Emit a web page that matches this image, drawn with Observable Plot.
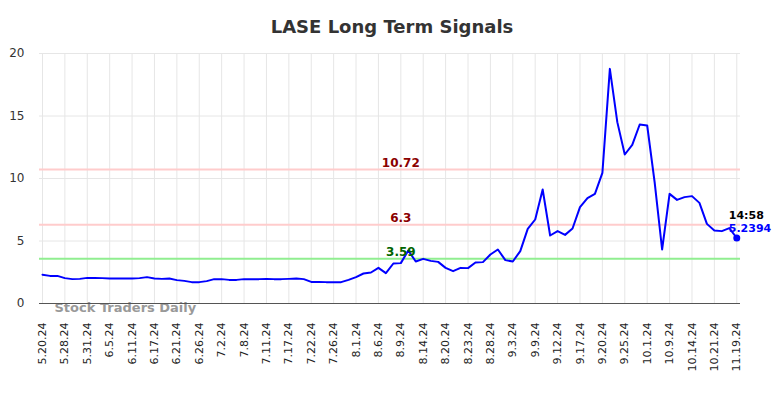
<!DOCTYPE html>
<html><head><meta charset="utf-8">
<script src="https://cdn.jsdelivr.net/npm/d3@7"></script>
<script src="https://cdn.jsdelivr.net/npm/@observablehq/plot@0.6"></script>
<style>
body{margin:0;background:#fff;font-family:"DejaVu Sans",sans-serif;}
#wrap{position:relative;width:784px;height:398px;overflow:hidden;}
#wrap svg{position:absolute;left:0;top:0;}
#title{position:absolute;left:0;top:17px;width:784px;text-align:center;font-weight:bold;font-size:18px;line-height:20px;font-family:"DejaVu Sans",sans-serif;color:#333;z-index:2;}
</style></head><body>
<div id="wrap"><div id="title">LASE Long Term Signals</div></div>
<script>
// tick labels, one every 3 data points
const dateLabels = ["5.20.24","5.28.24","5.31.24","6.5.24","6.11.24","6.17.24","6.21.24","6.26.24","7.2.24","7.8.24","7.11.24","7.17.24","7.22.24","7.26.24","8.1.24","8.6.24","8.9.24","8.14.24","8.20.24","8.23.24","8.28.24","9.3.24","9.9.24","9.12.24","9.17.24","9.20.24","9.25.24","10.1.24","10.9.24","10.14.24","10.21.24","11.19.24"];
const labelStep = 3;
// price series
const prices = [
 2.30,2.21,2.21,2.03,1.95,1.97,2.05,2.05,2.03,2.00,
 2.00,2.00,2.00,2.03,2.11,2.00,1.97,2.00,1.87,1.81,
 1.71,1.71,1.79,1.95,1.95,1.89,1.89,1.95,1.95,1.95,
 1.97,1.95,1.95,1.97,2.00,1.95,1.73,1.73,1.71,1.71,
 1.71,1.89,2.11,2.40,2.48,2.85,2.43,3.20,3.23,4.24,
 3.36,3.57,3.41,3.33,2.85,2.59,2.85,2.83,3.28,3.31,
 3.92,4.32,3.47,3.36,4.19,5.97,6.72,9.12,5.44,5.79,
 5.49,6.00,7.71,8.43,8.77,10.45,18.77,14.51,11.92,12.69,
 14.32,14.24,9.70,4.32,8.77,8.29,8.51,8.59,8.05,6.37,
 5.84,5.79,6.03,5.2394
];
const signalValues = [10.72, 6.3, 3.59];
const signalLabels = ["10.72", "6.3", "3.59"];
const signalColors = ["#ffcccc", "#ffcccc", "#90ee90"];
const signalTextColors = ["#8b0000", "#8b0000", "#006400"];
const yTicks = [0, 5, 10, 15, 20];
const lastTime = "14:58";
const lastValueLabel = "5.2394";

const series = prices.map((v, i) => ({i, v}));
const labelIdx = dateLabels.map((d, k) => k * labelStep);
const signals = signalValues.map((v, k) => ({v, label: signalLabels[k], line: signalColors[k], text: signalTextColors[k]}));
const last = series[series.length - 1];
const labelX = 48; // index where signal labels are centred

const plot = Plot.plot({
  width: 784, height: 398,
  marginLeft: 39, marginRight: 44, marginTop: 53, marginBottom: 95,
  style: {fontFamily: "DejaVu Sans, sans-serif", background: "transparent", overflow: "visible"},
  x: {type: "linear", domain: [-0.4, 93.5], axis: null},
  y: {domain: [0, 20], axis: null},
  marks: [
    Plot.ruleY(yTicks.filter(d => d > 0), {stroke: "#e6e6e6", strokeWidth: 1}),
    Plot.ruleX(labelIdx, {y1: 0, y2: 20, stroke: "#e6e6e6", strokeWidth: 1}),
    Plot.ruleY(signals, {y: "v", stroke: "line", strokeWidth: 2}),
    Plot.text(["Stock Traders Daily"], {frameAnchor: "bottom-left", dx: 15, dy: 4, textAnchor: "start", lineAnchor: "middle", fill: "#999", fontWeight: "bold", fontSize: 13}),
    Plot.ruleY([0], {stroke: "#555", strokeWidth: 1.2}),
    Plot.line(series, {x: "i", y: "v", stroke: "#0000ff", strokeWidth: 2}),
    Plot.text(signals, {x: () => labelX, y: "v", text: "label", fill: "text", fontWeight: "bold", fontSize: 12, lineAnchor: "bottom", dy: -3}),
    Plot.dot([last], {x: "i", y: "v", r: 3.5, fill: "#0000ff"}),
    Plot.text([last], {x: "i", y: "v", text: () => lastTime, fill: "#000", fontWeight: "bold", fontSize: 11, textAnchor: "start", lineAnchor: "bottom", dx: -8, dy: -19}),
    Plot.text([last], {x: "i", y: "v", text: () => lastValueLabel, fill: "#0000ff", fontWeight: "bold", fontSize: 11, textAnchor: "start", lineAnchor: "bottom", dx: -8, dy: -6}),
    Plot.text(yTicks, {x: -0.4, y: d => d, text: d => String(d), textAnchor: "end", lineAnchor: "middle", dx: -15, fill: "#333", fontSize: 12}),
    Plot.text(labelIdx, {x: d => d, y: () => 0, text: d => dateLabels[d / labelStep], rotate: -90, textAnchor: "end", lineAnchor: "middle", dy: 19, fill: "#222", fontSize: 11})
  ]
});
document.getElementById("wrap").appendChild(plot);
</script>
</body></html>
